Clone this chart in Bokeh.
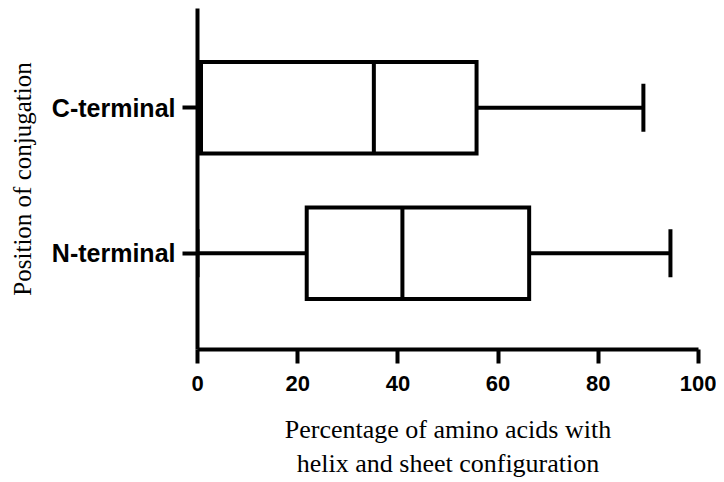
from bokeh.plotting import figure
from bokeh.models import ColumnDataSource, FixedTicker, Range1d
from bokeh.embed import file_html
from bokeh.resources import INLINE

# ---- data ----
categories = ["N-terminal", "C-terminal"]
mins = [0.0, 0.0]
q1 = [21.8, 0.7]
medians = [40.9, 35.2]
q3 = [66.2, 55.7]
maxs = [94.4, 89.0]
x_ticks = [0, 20, 40, 60, 80, 100]

pos = [i + 1 for i in range(len(categories))]
box_h = 0.63
cap_h = 0.33

src = ColumnDataSource(dict(
    y=pos, mins=mins, q1=q1, med=medians, q3=q3, maxs=maxs,
    y0=[p - box_h / 2 for p in pos], y1=[p + box_h / 2 for p in pos],
    c0=[p - cap_h / 2 for p in pos], c1=[p + cap_h / 2 for p in pos],
))

p = figure(width=716, height=482, output_backend="svg", toolbar_location=None,
           x_range=Range1d(0, 100), y_range=Range1d(0.338, 2.683),
           min_border_left=197, min_border_right=18, min_border_top=8,
           min_border_bottom=133)
p.outline_line_color = None
p.grid.visible = False
p.background_fill_color = "white"

LW = 4
# whiskers
p.segment(x0="mins", y0="y", x1="q1", y1="y", source=src, line_color="black", line_width=LW)
p.segment(x0="q3", y0="y", x1="maxs", y1="y", source=src, line_color="black", line_width=LW)
# caps
p.segment(x0="mins", y0="c0", x1="mins", y1="c1", source=src, line_color="black", line_width=LW)
p.segment(x0="maxs", y0="c0", x1="maxs", y1="c1", source=src, line_color="black", line_width=LW)
# boxes
p.quad(left="q1", right="q3", bottom="y0", top="y1", source=src,
       fill_color="white", line_color="black", line_width=LW, line_join="miter")
# medians
p.segment(x0="med", y0="y0", x1="med", y1="y1", source=src, line_color="black", line_width=LW)

# x axis
xa = p.xaxis[0]
xa.ticker = FixedTicker(ticks=x_ticks)
xa.axis_line_width = LW
xa.major_tick_line_width = LW
xa.major_tick_out = 14
xa.major_tick_in = 0
xa.minor_tick_line_color = None
xa.major_label_text_font = "Liberation Sans"
xa.major_label_text_font_style = "bold"
xa.major_label_text_font_size = "22px"
xa.major_label_text_color = "black"
xa.major_label_standoff = 12
xa.axis_label = "Percentage of amino acids with\nhelix and sheet configuration"
xa.axis_label_text_font = "Liberation Serif"
xa.axis_label_text_font_style = "normal"
xa.axis_label_text_font_size = "26px"
xa.axis_label_text_color = "black"
xa.axis_label_standoff = 21

# y axis
ya = p.yaxis[0]
ya.ticker = FixedTicker(ticks=pos)
ya.major_label_overrides = {p_: c for p_, c in zip(pos, categories)}
ya.axis_line_width = LW
ya.major_tick_line_width = LW
ya.major_tick_out = 15
ya.major_tick_in = 0
ya.minor_tick_line_color = None
ya.major_label_text_font = "Liberation Sans"
ya.major_label_text_font_style = "bold"
ya.major_label_text_font_size = "25px"
ya.major_label_text_color = "black"
ya.major_label_standoff = 7
ya.axis_label = "Position of conjugation"
ya.axis_label_text_font = "Liberation Serif"
ya.axis_label_text_font_style = "normal"
ya.axis_label_text_font_size = "25px"
ya.axis_label_text_color = "black"
ya.axis_label_standoff = 13

open("out.html", "w").write(file_html(p, INLINE))
